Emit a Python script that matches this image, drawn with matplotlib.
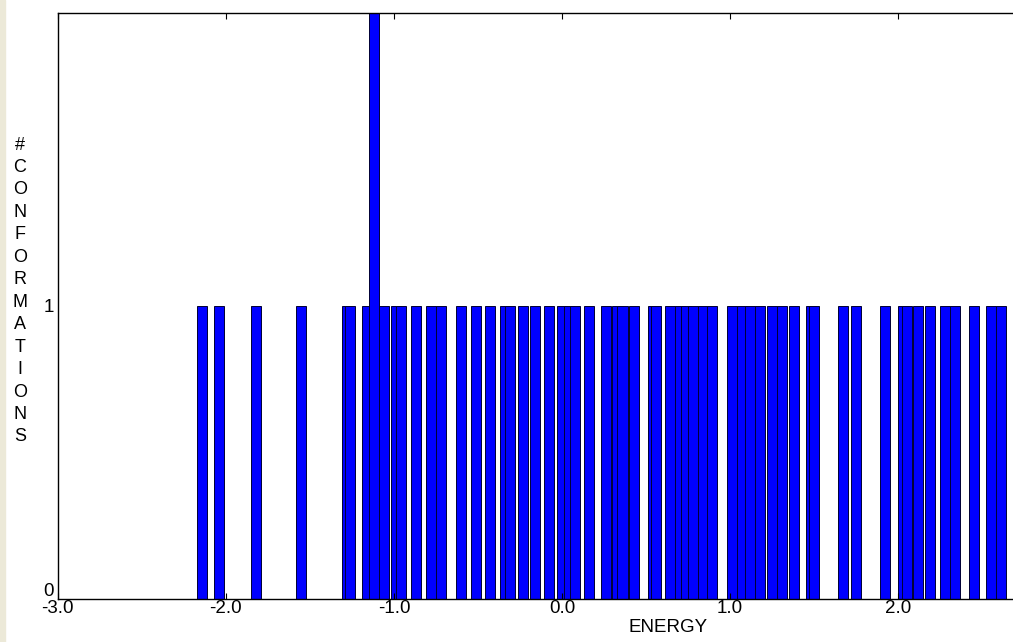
import matplotlib.pyplot as plt
from matplotlib.patches import Rectangle
from matplotlib.transforms import ScaledTranslation

# energy of each bar and how many conformations fall there
energies = [-2.14, -2.04, -1.82, -1.55, -1.28, -1.26, -1.16, -1.12, -1.06, -0.99,
            -0.96, -0.87, -0.78, -0.72, -0.60, -0.51, -0.43, -0.34, -0.31, -0.23,
            -0.16, -0.08, 0.00, 0.04, 0.08, 0.16, 0.26, 0.33, 0.36, 0.43,
            0.54, 0.56, 0.64, 0.70, 0.74, 0.78, 0.84, 0.89, 1.01, 1.07,
            1.12, 1.18, 1.25, 1.31, 1.38, 1.48, 1.50, 1.67, 1.75, 1.92,
            2.03, 2.05, 2.12, 2.19, 2.28, 2.34, 2.45, 2.55, 2.61]
counts = [1] * len(energies)
counts[energies.index(-1.12)] = 2

xticks = [-3.0, -2.0, -1.0, 0.0, 1.0, 2.0]
yticks = [0, 1]
ylabel = '#CONFORMATIONS'

plt.rcParams['font.family'] = ['Liberation Sans', 'DejaVu Sans']

fig = plt.figure(figsize=(10.13, 6.42), dpi=100)
ax = fig.add_axes([57.7 / 1013, 1 - 599 / 642, 1 - 57.7 / 1013 + 0.002, (599 - 13) / 642])

ax.bar(energies, counts, width=0.06, color='#0000ff', edgecolor='#000033', linewidth=0.7)

ax.set_xlim(-3.0, 2.695)
ax.set_ylim(0, 2)
ax.set_xticks(xticks)
ax.set_xticklabels([f'{t:.1f}' for t in xticks], fontsize=13.5)
ax.set_yticks(yticks)
ax.set_yticklabels([str(t) for t in yticks], fontsize=13.5)
ax.tick_params(axis='x', direction='in', length=4, top=True, pad=1)
ax.tick_params(axis='y', direction='in', length=0, pad=3)
ax.spines['right'].set_visible(False)
for s in ['left', 'top', 'bottom']:
    ax.spines[s].set_linewidth(1.0)

# lift the "0" a little so it does not sit on top of "-3.0"
zero_lbl = ax.get_yticklabels()[0]
zero_lbl.set_transform(zero_lbl.get_transform() + ScaledTranslation(0, 9 / 100, fig.dpi_scale_trans))

fig.text(20 / 1013, 1 - 291 / 642, '\n'.join(ylabel), ha='center', va='center',
         fontsize=13, linespacing=1.42)
fig.text(668 / 1013, 1 - 628 / 642, 'ENERGY', ha='center', va='center', fontsize=13.5)

# beige strip at the left border of the window
fig.patches.append(Rectangle((0, 0), 5 / 1013, 1, transform=fig.transFigure,
                             color='#ece9d8', zorder=-1))

fig.savefig('out.png', dpi=100)
